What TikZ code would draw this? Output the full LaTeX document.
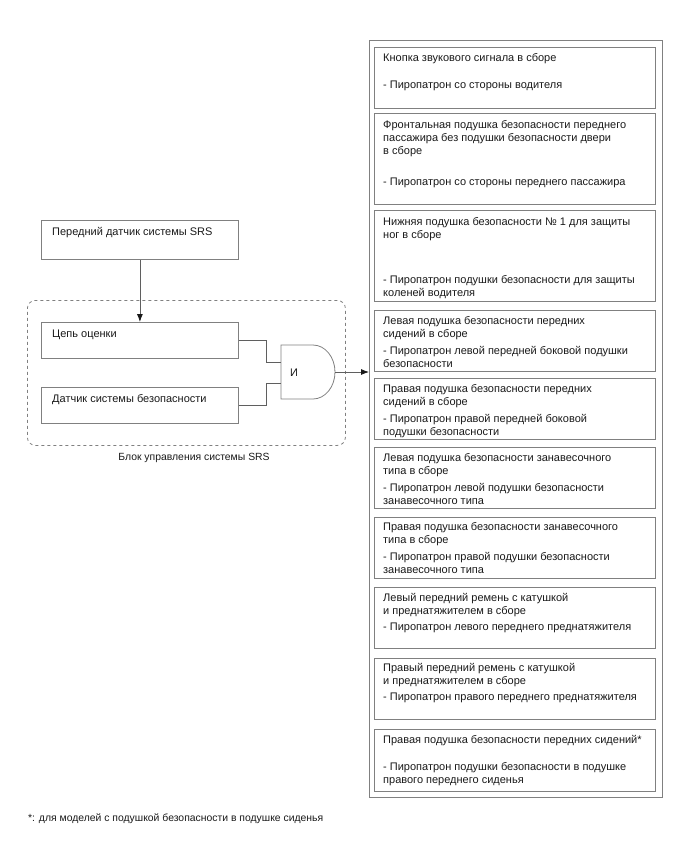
\documentclass[tikz,border=0pt]{standalone}
\usepackage{fontspec}
\setmainfont{Liberation Sans}
\usetikzlibrary{arrows.meta}
\definecolor{bordercol}{RGB}{128,128,128}
\definecolor{linecol}{RGB}{95,95,95}
\definecolor{textcol}{RGB}{25,25,25}
\tikzset{
  box/.style={draw=bordercol, line width=0.8pt, rectangle, inner sep=0pt, anchor=north west},
  txt/.style={anchor=base west, inner sep=0pt, text=textcol, font=\fontsize{11}{13}\selectfont},
  conn/.style={draw=linecol, line width=0.8pt},
  arr/.style={conn, -{Latex[length=8pt,width=6pt,color=textcol]}},
}
\newcommand{\bx}[1]{\parbox[t]{272pt}{\raggedright #1}}
\begin{document}
\begin{tikzpicture}[x=1pt,y=-1pt]
\useasboundingbox (0,0) rectangle (688,852);
% left part
\node[box, minimum width=197pt, minimum height=39pt] (front) at (41,220) {};
\node[txt] (tfront) at (52,235) {Передний датчик системы SRS};
\node[box, draw=bordercol, dashed, rounded corners=8pt, minimum width=318pt, minimum height=145pt] (ecu) at (27,300) {};
\node[box, minimum width=197pt, minimum height=36pt] (c1) at (41,322) {};
\node[txt] (tc1) at (52,337) {Цепь оценки};
\node[box, minimum width=197pt, minimum height=36pt] (c2) at (41,387) {};
\node[txt] (tc2) at (52,402) {Датчик системы безопасности};
\node[anchor=base, inner sep=0pt, text=textcol, font=\fontsize{10.4}{13}\selectfont] (ecul) at (194,460) {Блок управления системы SRS};
% AND gate
\coordinate (gin1) at (281,362);
\coordinate (gin2) at (281,383);
\coordinate (gout) at (335,372);
\draw[conn, draw=bordercol] (313,345) -- (281,345) -- (281,399) -- (313,399)
  .. controls (325.1,399) and (335,386.9) .. (gout)
  .. controls (335,357.1) and (325.1,345) .. cycle;
\node[txt, anchor=base] (gl) at (294,376) {И};
\draw[arr] (front.south) -- (c1.north);
\draw[conn] (c1.east) -- ++(28,0) |- (gin1);
\draw[conn] (c2.east) -- ++(28,0) |- (gin2);
% right part
\node[box, minimum width=293pt, minimum height=757pt] (outer) at (369,40) {};
\draw[arr] (gout) -- (outer.west |- gout);
\node[box, minimum width=281pt, minimum height=61pt] (b1) at (374,47) {};
\node[txt] (t1) at (383,61) {\bx{Кнопка звукового сигнала в сборе\\[14pt]- Пиропатрон со стороны водителя}};
\node[box, minimum width=281pt, minimum height=91pt] (b2) at (374,113) {};
\node[txt] (t2) at (383,128) {\bx{Фронтальная подушка безопасности переднего\\пассажира без подушки безопасности двери\\в сборе\\[18pt]- Пиропатрон со стороны переднего пассажира}};
\node[box, minimum width=281pt, minimum height=91pt] (b3) at (374,210) {};
\node[txt] (t3) at (383,225) {\bx{Нижняя подушка безопасности № 1 для защиты\\ног в сборе\\[32pt]- Пиропатрон подушки безопасности для защиты\\коленей водителя}};
\node[box, minimum width=281pt, minimum height=61pt] (b4) at (374,310) {};
\node[txt] (t4) at (383,324) {\bx{Левая подушка безопасности передних\\сидений в сборе\\[4pt]- Пиропатрон левой передней боковой подушки\\безопасности}};
\node[box, minimum width=281pt, minimum height=61pt] (b5) at (374,378) {};
\node[txt] (t5) at (383,392) {\bx{Правая подушка безопасности передних\\сидений в сборе\\[4pt]- Пиропатрон правой передней боковой\\подушки безопасности}};
\node[box, minimum width=281pt, minimum height=61pt] (b6) at (374,447) {};
\node[txt] (t6) at (383,461) {\bx{Левая подушка безопасности занавесочного\\типа в сборе\\[4pt]- Пиропатрон левой подушки безопасности\\занавесочного типа}};
\node[box, minimum width=281pt, minimum height=61pt] (b7) at (374,517) {};
\node[txt] (t7) at (383,530) {\bx{Правая подушка безопасности занавесочного\\типа в сборе\\[4pt]- Пиропатрон правой подушки безопасности\\занавесочного типа}};
\node[box, minimum width=281pt, minimum height=61pt] (b8) at (374,587) {};
\node[txt] (t8) at (383,601) {\bx{Левый передний ремень с катушкой\\и преднатяжителем в сборе\\[3pt]- Пиропатрон левого переднего преднатяжителя}};
\node[box, minimum width=281pt, minimum height=61pt] (b9) at (374,658) {};
\node[txt] (t9) at (383,671) {\bx{Правый передний ремень с катушкой\\и преднатяжителем в сборе\\[3pt]- Пиропатрон правого переднего преднатяжителя}};
\node[box, minimum width=281pt, minimum height=62pt] (b10) at (374,729) {};
\node[txt] (t10) at (383,743) {\bx{Правая подушка безопасности передних сидений*\\[14pt]- Пиропатрон подушки безопасности в подушке\\правого переднего сиденья}};
% footnote
\node[txt, font=\fontsize{10.4}{13}\selectfont] (foot) at (28,821) {*: для моделей с подушкой безопасности в подушке сиденья};
\end{tikzpicture}
\end{document}
